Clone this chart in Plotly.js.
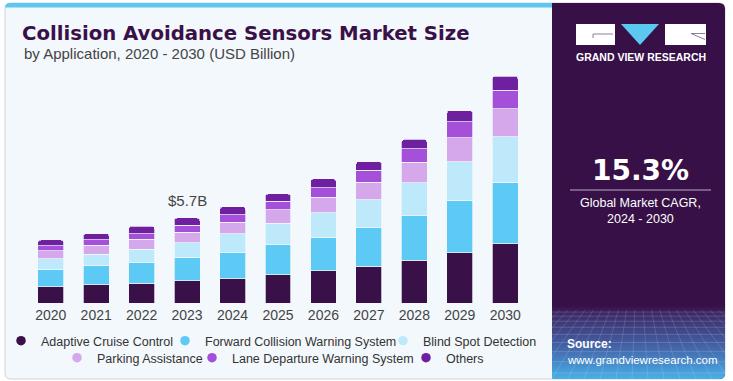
<!DOCTYPE html>
<html>
<head>
<meta charset="utf-8">
<script src="https://cdn.plot.ly/plotly-3.0.1.min.js"></script>
<style>html,body{margin:0;padding:0;background:#fff;}#chart{width:733px;height:381px;}</style>
</head>
<body>
<div id="chart"></div>
<script>
// ---- data ----
const years = ['2020','2021','2022','2023','2024','2025','2026','2027','2028','2029','2030'];
const adaptiveCruise = [1.09,1.21,1.34,1.50,1.63,1.88,2.17,2.46,2.86,3.38,3.98];
const forwardCollision = [1.17,1.28,1.36,1.57,1.74,2.04,2.23,2.60,3.00,3.51,4.11];
const blindSpot = [0.71,0.79,0.90,0.96,1.28,1.44,1.66,1.88,2.19,2.60,3.05];
const parkingAssist = [0.54,0.58,0.67,0.72,0.77,0.89,1.03,1.16,1.38,1.59,1.90];
const laneDeparture = [0.34,0.38,0.38,0.47,0.49,0.58,0.65,0.79,0.90,1.07,1.23];
const others = [0.38,0.42,0.50,0.49,0.54,0.49,0.58,0.60,0.64,0.76,0.94];
const seriesNames = ['Adaptive Cruise Control','Forward Collision Warning System','Blind Spot Detection','Parking Assistance','Lane Departure Warning System','Others'];
const highlightYear = '2023';
const highlightLabel = '$5.7B';
const cagrText = '15.3%';
const cagrLabel = 'Global Market CAGR,<br>2024 - 2030';

// ---- styling ----
const FONT = 'Liberation Sans, Arial, sans-serif';
const FONT_BOLD = 'DejaVu Sans, Liberation Sans, sans-serif';
const colors = ['#3a1048','#5ccaf5','#bde9fa','#d5a8ec','#a450d8','#6e20a0'];
const seriesValues = [adaptiveCruise, forwardCollision, blindSpot, parkingAssist, laneDeparture, others];

// pixel -> paper helpers
const ML = 28, MR = 733 - 528, MT = 70, MB = 78;
const PW = 733 - ML - MR, PH = 381 - MT - MB;
const X = px => (px - ML) / PW;
const Y = py => (381 - MB - py) / PH;

function rr(x0, y0, x1, y1, r) { // r = [tl,tr,br,bl] in px
  const [tl, tr, br, bl] = r;
  return `M${X(x0+tl)},${Y(y0)} L${X(x1-tr)},${Y(y0)} Q${X(x1)},${Y(y0)} ${X(x1)},${Y(y0+tr)} ` +
    `L${X(x1)},${Y(y1-br)} Q${X(x1)},${Y(y1)} ${X(x1-br)},${Y(y1)} L${X(x0+bl)},${Y(y1)} ` +
    `Q${X(x0)},${Y(y1)} ${X(x0)},${Y(y1-bl)} L${X(x0)},${Y(y0+tl)} Q${X(x0)},${Y(y0)} ${X(x0+tl)},${Y(y0)} Z`;
}

const traces = [];
seriesValues.forEach((vals, i) => {
  traces.push({
    type: 'bar', x: years, y: vals, name: seriesNames[i],
    marker: {color: colors[i], line: {color: 'rgba(243,248,252,0.9)', width: 0.8}},
    showlegend: false, hoverinfo: 'x+y+name'
  });
});
// legend-only entries (circle markers), on a hidden helper axis; one legend per entry
const legendKeys = ['legend','legend2','legend3','legend4','legend5','legend6'];
seriesValues.forEach((vals, i) => {
  traces.push({
    type: 'scatter', mode: 'markers', x: [null], y: [null], name: seriesNames[i],
    xaxis: 'x2', yaxis: 'y2',
    marker: {color: colors[i], size: 9.5, symbol: 'circle'},
    legend: legendKeys[i], showlegend: true, hoverinfo: 'skip'
  });
});

const hiIdx = years.indexOf(highlightYear);
const hiTotal = seriesValues.reduce((s, v) => s + v[hiIdx], 0);

// bottom panel image (grid + gradient)
let grid = '';
[6,10,15,21,28,36,45,55,66].forEach(y => { grid += `<line x1='0' y1='${y}' x2='173' y2='${y}' stroke='white' stroke-opacity='0.22' stroke-width='0.7'/>`; });
for (let bx = -160; bx <= 340; bx += 16) {
  const vx = 86, vy = -70, t = (4 - vy) / (72 - vy);
  grid += `<line x1='${vx + (bx - vx) * t}' y1='4' x2='${bx}' y2='72' stroke='white' stroke-opacity='0.2' stroke-width='0.7'/>`;
}
const svg = `<svg xmlns='http://www.w3.org/2000/svg' width='173' height='72' viewBox='0 0 173 72'>` +
  `<defs><linearGradient id='g' x1='0' y1='0' x2='0' y2='1'>` +
  `<stop offset='0' stop-color='#371047'/><stop offset='0.12' stop-color='#3d2c69'/>` +
  `<stop offset='0.55' stop-color='#4462a6'/><stop offset='1' stop-color='#48b0ea'/></linearGradient>` +
  `<clipPath id='c'><path d='M0 0 H173 V66 Q173 72 167 72 H0 Z'/></clipPath></defs>` +
  `<g clip-path='url(#c)'><rect width='173' height='72' fill='url(#g)'/>${grid}</g></svg>`;
const svgUri = 'data:image/svg+xml;charset=utf-8,' + encodeURIComponent(svg);

const shapes = [
  {type:'path', xref:'paper', yref:'paper', path: rr(5,3,725,379,[6,6,6,6]), fillcolor:'#f3f8fc', line:{color:'#cfd4da', width:1}, layer:'below'},
  {type:'path', xref:'paper', yref:'paper', path: rr(5,3,553,7.5,[5,0,0,0]), fillcolor:'#5bc8f0', line:{width:0}, layer:'below'},
  {type:'path', xref:'paper', yref:'paper', path: rr(552,3,725,379,[0,6,6,0]), fillcolor:'#371047', line:{width:0}, layer:'below'},
  {type:'rect', xref:'paper', yref:'paper', x0:X(576), x1:X(615), y0:Y(24), y1:Y(45), fillcolor:'#ffffff', line:{width:0}},
  {type:'path', xref:'paper', yref:'paper', path:`M${X(593)},${Y(38)} L${X(593)},${Y(34)} L${X(613)},${Y(34)}`, line:{color:'#8d7f9c', width:1}},
  {type:'path', xref:'paper', yref:'paper', path:`M${X(621)},${Y(24)} L${X(659)},${Y(24)} L${X(640)},${Y(45)} Z`, fillcolor:'#5bc8f0', line:{width:0}},
  {type:'rect', xref:'paper', yref:'paper', x0:X(665), x1:X(706), y0:Y(24), y1:Y(45), fillcolor:'#ffffff', line:{width:0}},
  {type:'path', xref:'paper', yref:'paper', path:`M${X(705)},${Y(33.5)} L${X(691)},${Y(33.5)} L${X(705)},${Y(39.5)}`, line:{color:'#8d7f9c', width:1}},
  {type:'line', xref:'paper', yref:'paper', x0:X(570), x1:X(711), y0:Y(190), y1:Y(190), line:{color:'#b9a9c6', width:1.2}}
];

const annotations = [
  {xref:'paper', yref:'paper', x:X(22), y:Y(54), xanchor:'left', yanchor:'middle', showarrow:false,
   text:'by Application, 2020 - 2030 (USD Billion)', font:{family:FONT, size:15, color:'#444'}},
  {x:hiIdx, y:hiTotal, xref:'x', yref:'y', xanchor:'center', yanchor:'bottom', showarrow:false, yshift:7,
   text:highlightLabel, font:{family:FONT, size:15, color:'#444'}},
  {xref:'paper', yref:'paper', x:X(640.5), y:Y(57.5), xanchor:'center', yanchor:'middle', showarrow:false,
   text:'<b>GRAND VIEW RESEARCH</b>', font:{family:FONT, size:10.5, color:'#ffffff'}},
  {xref:'paper', yref:'paper', x:X(640.5), y:Y(170), xanchor:'center', yanchor:'middle', showarrow:false,
   text:'<b>'+cagrText+'</b>', font:{family:FONT_BOLD, size:28, color:'#ffffff'}},
  {xref:'paper', yref:'paper', x:X(640.5), y:Y(211), xanchor:'center', yanchor:'middle', showarrow:false,
   text:cagrLabel, font:{family:FONT, size:12.5, color:'#ffffff'}},
  {xref:'paper', yref:'paper', x:X(565), y:Y(344), xanchor:'left', yanchor:'middle', showarrow:false,
   text:'<b>Source:</b>', font:{family:FONT, size:12, color:'#ffffff'}},
  {xref:'paper', yref:'paper', x:X(565), y:Y(360), xanchor:'left', yanchor:'middle', showarrow:false,
   text:'www.grandviewresearch.com', font:{family:FONT, size:11.5, color:'#ffffff'}}
];

const legendBase = {orientation:'h', xref:'container', yref:'container', xanchor:'left', yanchor:'middle',
  font:{family:FONT, size:12.5, color:'#333'}, traceorder:'normal',
  bgcolor:'rgba(0,0,0,0)', itemwidth:30, tracegroupgap:0, itemclick:false, itemdoubleclick:false};
// text start x (px) and row centre y (px) of each legend entry
const legendTextX = [39, 203, 421, 95, 230, 444];
const legendRowY = [341, 341, 341, 358, 358, 358];

const layout = {
  width:733, height:381,
  margin:{l:ML, r:MR, t:MT, b:MB, pad:0},
  paper_bgcolor:'#ffffff', plot_bgcolor:'rgba(0,0,0,0)',
  font:{family:FONT, color:'#444'},
  title:{text:'<b>Collision Avoidance Sensors Market Size</b>', xref:'container', yref:'container',
    x:22/733, xanchor:'left', y:1-33/381, yanchor:'middle', font:{family:FONT_BOLD, size:19.7, color:'#3a1048'}},
  barmode:'stack', bargap:0.43, barcornerradius:3,
  xaxis:{type:'category', range:[-0.5, years.length - 0.5], autorange:false, showgrid:false, zeroline:false, showline:false,
    ticks:'', ticklabelstandoff:2, tickfont:{family:FONT, size:14, color:'#444'}, fixedrange:true},
  yaxis:{range:[0, PH/14.91], autorange:false, visible:false, fixedrange:true},
  xaxis2:{overlaying:'x', visible:false, range:[0,1], fixedrange:true},
  yaxis2:{overlaying:'y', visible:false, range:[0,1], fixedrange:true},
  shapes:shapes, annotations:annotations,
  images:[{source:svgUri, xref:'paper', yref:'paper', x:X(552), y:Y(306), sizex:173/PW, sizey:73/PH,
    xanchor:'left', yanchor:'top', sizing:'stretch', layer:'above'}],
  showlegend:true
};
legendKeys.forEach((k, i) => {
  layout[k] = Object.assign({}, legendBase, {x:(legendTextX[i] - 38)/733, y:1 - legendRowY[i]/381});
});

Plotly.newPlot('chart', traces, layout, {displayModeBar:false});
</script>
</body>
</html>
